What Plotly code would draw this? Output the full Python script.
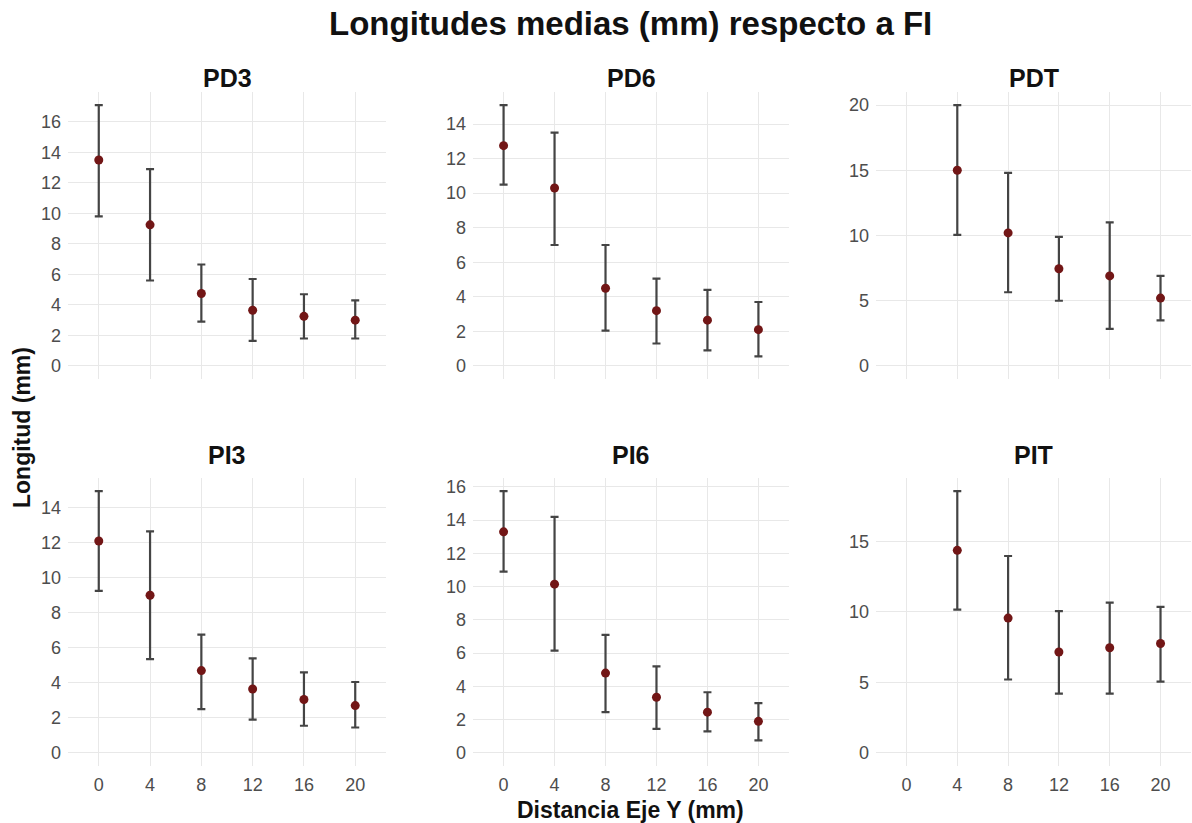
import plotly.graph_objects as go

W, H = 1192, 823

dist = ['0', '4', '8', '12', '16', '20']

PD3_mean = [13.5, 9.25, 4.75, 3.65, 3.25, 3.0]
PD3_lo = [9.8, 5.6, 2.9, 1.65, 1.8, 1.8]
PD3_hi = [17.1, 12.9, 6.65, 5.7, 4.7, 4.3]

PD6_mean = [12.75, 10.3, 4.5, 3.2, 2.65, 2.1]
PD6_lo = [10.5, 7.0, 2.05, 1.3, 0.9, 0.55]
PD6_hi = [15.1, 13.5, 7.0, 5.05, 4.4, 3.7]

PDT_mean = [None, 15.0, 10.2, 7.45, 6.9, 5.2]
PDT_lo = [None, 10.05, 5.65, 5.0, 2.85, 3.5]
PDT_hi = [None, 20.0, 14.8, 9.9, 11.0, 6.9]

PI3_mean = [12.1, 9.0, 4.7, 3.65, 3.05, 2.7]
PI3_lo = [9.25, 5.35, 2.5, 1.9, 1.55, 1.45]
PI3_hi = [14.95, 12.65, 6.75, 5.4, 4.6, 4.05]

PI6_mean = [13.3, 10.15, 4.8, 3.35, 2.45, 1.9]
PI6_lo = [10.9, 6.15, 2.45, 1.45, 1.3, 0.75]
PI6_hi = [15.75, 14.2, 7.1, 5.2, 3.65, 3.0]

PIT_mean = [None, 14.35, 9.55, 7.15, 7.45, 7.75]
PIT_lo = [None, 10.15, 5.2, 4.2, 4.2, 5.05]
PIT_hi = [None, 18.55, 13.95, 10.05, 10.65, 10.35]

panels = [
    ("PD3", PD3_mean, PD3_lo, PD3_hi, 2),
    ("PD6", PD6_mean, PD6_lo, PD6_hi, 2),
    ("PDT", PDT_mean, PDT_lo, PDT_hi, 5),
    ("PI3", PI3_mean, PI3_lo, PI3_hi, 2),
    ("PI6", PI6_mean, PI6_lo, PI6_hi, 2),
    ("PIT", PIT_mean, PIT_lo, PIT_hi, 5),
]

title_text = "Longitudes medias (mm) respecto a FI"
x_title = "Distancia Eje Y (mm)"
y_title = "Longitud (mm)"

# pixel layout
col_px = [(68, 386), (473, 789), (876, 1191)]
row_px = [(92, 379), (478, 766)]
title_y_px = [78, 455]

FONT = "Liberation Sans, Arial, sans-serif"
GRID = "#e8e8e8"
TICKC = "#4d4d4d"

fig = go.Figure()
annotations = []

for i, (name, mean, lo, hi, dt) in enumerate(panels):
    r, c = divmod(i, 3)
    idx = i + 1
    xs, ys, ep, em = [], [], [], []
    for d, m, l, h in zip(dist, mean, lo, hi):
        if m is None:
            continue
        xs.append(d)
        ys.append(m)
        ep.append(h - m)
        em.append(m - l)
    xa = "x" if idx == 1 else f"x{idx}"
    ya = "y" if idx == 1 else f"y{idx}"
    fig.add_trace(go.Scatter(
        x=xs, y=ys, mode="markers", xaxis=xa, yaxis=ya,
        marker=dict(size=9, color="#721616", line=dict(width=0)),
        error_y=dict(type="data", symmetric=False, array=ep, arrayminus=em,
                     color="#444444", thickness=2.2, width=4),
        showlegend=False, hoverinfo="x+y",
    ))
    his = [h for h in hi if h is not None]
    top = max(his)
    pad = 0.05 * top
    x0, x1 = col_px[c]
    y0, y1 = row_px[r]
    xdom = [x0 / W, x1 / W]
    ydom = [1 - y1 / H, 1 - y0 / H]
    xkey = "xaxis" if idx == 1 else f"xaxis{idx}"
    ykey = "yaxis" if idx == 1 else f"yaxis{idx}"
    fig.layout[xkey] = dict(
        domain=xdom, anchor=ya, type="category",
        categoryorder="array", categoryarray=dist,
        range=[-0.6, 5.6], showgrid=True, gridcolor=GRID, gridwidth=1,
        showline=False, zeroline=False, ticks="",
        showticklabels=(r == 1), ticklabelstandoff=6,
        tickfont=dict(family=FONT, size=18, color=TICKC), fixedrange=True,
    )
    fig.layout[ykey] = dict(
        domain=ydom, anchor=xa, range=[-pad, top + pad],
        tick0=0, dtick=dt, showgrid=True, gridcolor=GRID, gridwidth=1,
        showline=False, zeroline=False, ticks="", ticklabelstandoff=6,
        tickfont=dict(family=FONT, size=18, color=TICKC), fixedrange=True,
    )
    annotations.append(dict(
        text=f"<b>{name}</b>", x=(x0 + x1) / 2 / W, y=1 - title_y_px[r] / H,
        xref="paper", yref="paper", xanchor="center", yanchor="middle",
        showarrow=False, font=dict(family=FONT, size=25, color="#111111"),
    ))

annotations.append(dict(
    text=f"<b>{title_text}</b>", x=630 / W, y=1 - 23 / H,
    xref="paper", yref="paper", xanchor="center", yanchor="middle",
    showarrow=False, font=dict(family=FONT, size=33, color="#111111"),
))
annotations.append(dict(
    text=f"<b>{x_title}</b>", x=630 / W, y=1 - 810 / H,
    xref="paper", yref="paper", xanchor="center", yanchor="middle",
    showarrow=False, font=dict(family=FONT, size=23, color="#111111"),
))
annotations.append(dict(
    text=f"<b>{y_title}</b>", x=22 / W, y=1 - 428 / H, textangle=-90,
    xref="paper", yref="paper", xanchor="center", yanchor="middle",
    showarrow=False, font=dict(family=FONT, size=23, color="#111111"),
))

fig.update_layout(
    width=W, height=H, margin=dict(l=0, r=0, t=0, b=0),
    paper_bgcolor="white", plot_bgcolor="white",
    annotations=annotations, showlegend=False,
)

fig.write_html("out.html", config={"displayModeBar": False},
               post_script="document.body.style.margin='0';document.body.style.overflow='hidden';")
